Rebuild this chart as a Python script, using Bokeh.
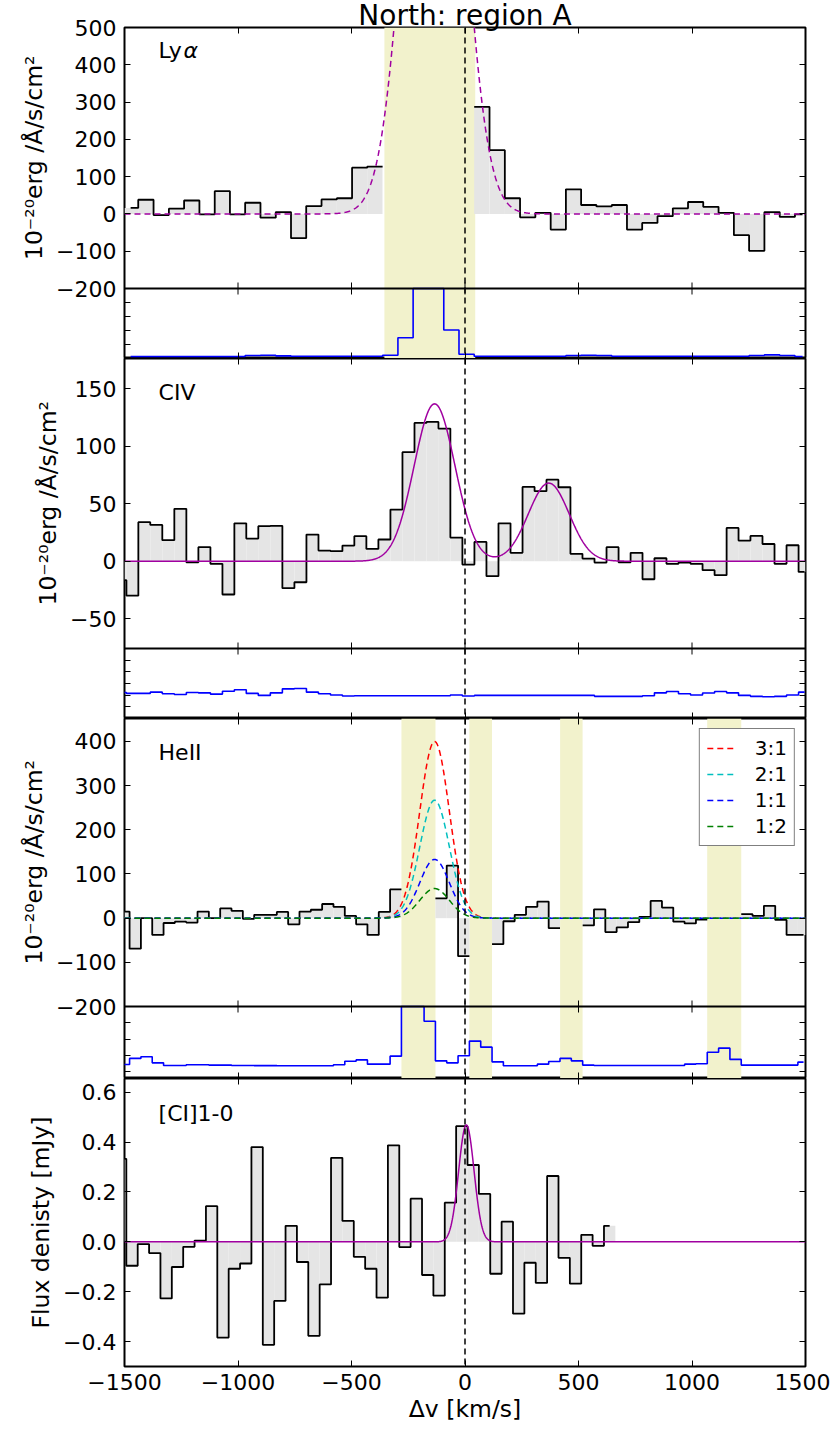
import numpy as np
from bokeh.plotting import figure
from bokeh.models import (Range1d, FixedTicker, LinearAxis, Span, BoxAnnotation,
                          Label, Legend, LegendItem, CustomJSTickFormatter, Title)
from bokeh.layouts import column
from bokeh.embed import file_html
from bokeh.resources import INLINE

nan = float("nan")
FONT = "DejaVu Sans"

# ---------------- data ----------------
x_ticks = [-1500, -1000, -500, 0, 500, 1000, 1500]

# Ly-alpha spectrum (bin centres km/s, flux 1e-20 erg/s/cm2/A, noise)
v_lya = [-1473, -1406, -1338, -1271, -1204, -1136, -1069, -1002, -935, -867,
         -800, -733, -666, -598, -531, -464, -397, -329, -262, -195,
         -127, -60, 7, 74, 142, 209, 276, 344, 411, 478,
         545, 613, 680, 747, 814, 882, 949, 1016, 1083, 1151,
         1218, 1285, 1353, 1420, 1487]
f_lya = [16, 38, -3, 14, 36, -1, 61, -1, 30, -10,
         5, -65, 21, 39, 42, 124, 127, nan, nan, nan,
         nan, nan, nan, 287, 171, 42, -9, 3, -42, 66,
         24, 20, 24, -42, -24, -6, 15, 32, 19, 3,
         -57, -99, 5, -8, -1]
n_lya = [1.4, 1.4, 1.4, 1.4, 1.4, 1.4, 1.4, 1.4, 2.1, 2.3,
         1.9, 1.6, 1.6, 1.6, 1.6, 1.6, 1.6, 2.3, 14.8, 80,
         80, 20.4, 3.0, 1.6, 1.6, 1.6, 1.6, 1.6, 1.6, 2.1,
         2.3, 2.1, 1.6, 1.6, 1.6, 1.6, 1.6, 1.6, 1.6, 1.6,
         1.6, 2.1, 2.6, 2.1, 1.4]
bw_lya = 67.27
lya_bands = [(-355, 45)]

# CIV spectrum
v_civ = [-1518, -1465, -1413, -1360, -1307, -1254, -1201, -1148, -1095, -1042,
         -990, -937, -884, -831, -778, -725, -672, -619, -566, -514,
         -461, -408, -355, -302, -249, -196, -143, -91, -38, 15,
         68, 121, 174, 227, 280, 333, 385, 438, 491, 544,
         597, 650, 703, 756, 808, 861, 914, 967, 1020, 1073,
         1126, 1179, 1231, 1284, 1337, 1390, 1443, 1496]
f_civ = [-16.5, -30, 34, 31.6, 18.3, 45.6, -1, 12.2, -2.3, -29,
         33, 19.7, 30.5, 30.8, -23.5, -18.3, 23.2, 9.3, 8.7, 13.6,
         21.8, 10.7, 18.9, 45, 94.9, 120.4, 121.3, 115.5, 20.6, -2.9,
         16.8, -13, 33, 7.3, 64.7, 61, 71, 64.4, 6.4, 2.3,
         -1.2, 12.2, -0.9, 7.3, -15.7, 2.6, -2.3, -1.2, -2.3, -7.8,
         -12.2, 29, 18, 22, 15, -2.3, 13.9, -9.3]
n_civ = [22.3, 21.5, 21.5, 22.6, 21.2, 20.6, 22.3, 22.0, 20.9, 23.4,
         24.6, 21.5, 19.8, 22.0, 25.4, 25.7, 22.6, 21.2, 20.1, 19.3,
         19.5, 19.5, 19.5, 19.5, 19.5, 19.5, 19.5, 19.5, 20.1, 19.3,
         19.8, 19.8, 19.8, 19.8, 19.8, 19.8, 19.8, 19.8, 19.8, 19.8,
         19.0, 19.0, 19.0, 19.0, 19.5, 22.0, 23.2, 21.2, 20.1, 21.8,
         23.2, 22.0, 19.8, 19.0, 18.7, 19.0, 20.1, 22.6]
bw_civ = 52.88

# HeII spectrum
v_heii = [-1502.6, -1452.7, -1402.8, -1352.9, -1303.0, -1253.1, -1203.2, -1153.3, -1103.4, -1053.5,
          -1003.6, -953.7, -903.8, -853.9, -804.0, -754.1, -704.2, -654.3, -604.4, -554.5,
          -504.6, -454.7, -404.8, -354.9, -305.0, -255.1, -205.2, -155.3, -105.4, -55.5,
          -5.6, 44.3, 94.2, 144.1, 194.0, 243.9, 293.8, 343.7, 393.6, 443.5,
          493.4, 543.3, 593.2, 643.1, 693.0, 742.9, 792.8, 842.7, 892.6, 942.5,
          992.4, 1042.3, 1092.2, 1142.1, 1192.0, 1241.9, 1291.8, 1341.7, 1391.6, 1441.5,
          1491.4]
f_heii = [15, -69, 0, -38, -11, -8, -10, 15, 0, 22,
          16.5, -1.5, 7.5, 7.5, 14, -14, 15, 19, 32, 25.6,
          5, -14, -38, 14, 65, nan, nan, nan, 45, 119,
          -86, nan, nan, -59, -7, 7.5, 25.6, 37.6, -22.6, nan,
          nan, -16.5, 20, -31.6, -21, -9, 3, 39, 24, -8,
          -12, -3, nan, nan, nan, 9, 5, 28, -4, -38,
          -38]
n_heii = [4.5, 8.2, 9.2, 5.5, 3.9, 3.9, 4.3, 4.3, 4.1, 4.1,
          3.9, 3.9, 3.8, 3.8, 3.7, 3.7, 3.7, 3.7, 3.7, 4.3,
          6.5, 7.3, 4.7, 4.7, 9.6, 60, 60, 31, 6.7, 5.5,
          9.8, 18.8, 15.1, 6.1, 3.7, 3.7, 3.7, 4.7, 6.3, 8.2,
          6.7, 4.1, 3.9, 3.9, 3.9, 3.9, 3.9, 3.9, 3.9, 3.9,
          4.7, 4.9, 12, 14.5, 7.6, 4.1, 4.1, 4.1, 4.1, 4.1,
          5.9]
bw_heii = 49.9
heii_bands = [(-280, -130), (19, 119), (419, 518), (1067, 1217)]

# [CI] 1-0 spectrum (mJy)
v_ci = [-1517.0, -1466.9, -1416.8, -1366.7, -1316.6, -1266.5, -1216.4, -1166.3, -1116.2, -1066.1,
        -1016.0, -965.9, -915.8, -865.7, -815.6, -765.5, -715.4, -665.3, -615.2, -565.1,
        -515.0, -464.9, -414.8, -364.7, -314.6, -264.5, -214.4, -164.3, -114.2, -64.1,
        -14.0, 36.1, 86.2, 136.3, 186.4, 236.5, 286.6, 336.7, 386.8, 436.9,
        487.0, 537.1, 587.2, 637.3]
f_ci = [0.333, -0.096, -0.009, -0.045, -0.227, -0.101, -0.02, 0.005, 0.143, -0.384,
        -0.108, -0.087, 0.38, -0.413, -0.237, 0.064, -0.081, -0.377, -0.171, 0.337,
        0.084, -0.06, -0.108, -0.224, 0.387, -0.021, 0.173, -0.133, -0.216, 0.157,
        0.464, 0.308, 0.192, -0.128, 0.081, -0.288, -0.084, -0.165, 0.264, -0.064,
        -0.168, 0.028, -0.016, 0.064]
bw_ci = 50.1

# Gaussian model parameters (amplitude, centre km/s, sigma km/s)
lya_fit = [(1700, -136, 113)]
civ_fit = [(137, -134, 90), (68, 369, 90)]
heii_labels = ["3:1", "2:1", "1:1", "1:2"]
heii_amps = [400, 267, 133, 67]
heii_colors = ["#ff0000", "#00bfbf", "#0000ff", "#008000"]
heii_mu, heii_sigma = -134, 65
ci_fit = [(0.469, 6, 34)]

# ---------------- helpers ----------------
PURPLE = "#a000a0"
GREY = "#e5e5e5"
BAND = "#f2f2cc"
TICK_FS = "22px"
LAB_FS = "23.5px"
TAG_FS = "22px"
BORDER_L, BORDER_R, FRAME_W = 124, 25, 681
PX = 3000.0 / FRAME_W          # km/s per screen pixel
YLAB_LEN = 205                 # approx. rendered length of the flux axis title, px
vgrid = np.linspace(-1500, 1500, 1501)


def gauss(comps):
    y = np.zeros_like(vgrid)
    for a, m, s in comps:
        y = y + a * np.exp(-0.5 * ((vgrid - m) / s) ** 2)
    return y


def step_xy(x, y):
    x = np.asarray(x, float)
    y = np.asarray(y, float)
    n = len(x)
    xs, ys = [], []
    prev = False
    for i in range(n):
        if np.isnan(y[i]):
            if prev:
                xs.append(nan)
                ys.append(nan)
            prev = False
            continue
        left = 0.5 * (x[i - 1] + x[i]) if i > 0 else x[i]
        right = 0.5 * (x[i] + x[i + 1]) if i < n - 1 else x[i]
        xs += [left, right]
        ys += [y[i], y[i]]
        prev = True
    return np.array(xs), np.array(ys)


def minus_fmt(decimals):
    return CustomJSTickFormatter(
        code="return (tick < 0 ? '\\u2212' : '') + Math.abs(tick).toFixed(%d);" % decimals)


def blank_axis(ticker, **kw):
    return LinearAxis(ticker=ticker, formatter=CustomJSTickFormatter(code="return '';"),
                      major_label_text_font_size="0px", major_label_standoff=0,
                      major_tick_in=6, major_tick_out=0, minor_tick_line_color=None,
                      axis_line_color=None, major_tick_line_color="black", **kw)


def stack(main_h, main_r, main_ticks, fmt, ylabel, noise_h=None, noise_r=None, noise_ticks=None,
          xlabels=False, top=0, bottom=0):
    lo, hi = main_r
    H = main_h + (noise_h or 0)
    lo_ext = lo - (noise_h or 0) * (hi - lo) / main_h
    p = figure(frame_width=FRAME_W, frame_height=H,
               x_range=Range1d(-1500, 1500), y_range=Range1d(lo_ext, hi),
               x_axis_location=None, y_axis_location=None,
               output_backend="svg", toolbar_location=None,
               min_border_left=BORDER_L, min_border_right=BORDER_R,
               min_border_top=top, min_border_bottom=bottom)
    p.grid.visible = False
    p.outline_line_color = "black"
    p.outline_line_width = 2
    p.outline_line_alpha = 1.0
    xt = FixedTicker(ticks=x_ticks)
    if noise_h:
        nlo, nhi = noise_r
        p.extra_y_ranges = {"noise": Range1d(nlo, nhi + main_h * (nhi - nlo) / noise_h)}
    # x axes
    if xlabels:
        ax = LinearAxis(ticker=xt, formatter=minus_fmt(0),
                        major_label_text_font_size=TICK_FS, major_label_text_font=FONT,
                        major_label_text_color="black",
                        major_label_standoff=7, major_tick_in=6, major_tick_out=0,
                        minor_tick_line_color=None, axis_line_color=None,
                        axis_label="\u0394v [km/s]", axis_label_text_font=FONT,
                        axis_label_text_color="black",
                        axis_label_text_font_size=LAB_FS, axis_label_text_font_style="normal",
                        axis_label_standoff=2)
    else:
        ax = blank_axis(xt)
    p.add_layout(ax, "below")
    p.add_layout(blank_axis(xt), "above")
    # y axes (blank noise axis first so that it sits on the frame edge)
    if noise_h:
        p.add_layout(blank_axis(FixedTicker(ticks=noise_ticks), y_range_name="noise"), "left")
    ay = LinearAxis(ticker=FixedTicker(ticks=main_ticks), formatter=fmt,
                    major_label_text_font_size=TICK_FS, major_label_text_font=FONT,
                    major_label_text_color="black",
                    major_label_standoff=8, major_tick_in=6, major_tick_out=0,
                    minor_tick_line_color=None, axis_line_color=None)
    p.add_layout(ay, "left")
    # y-axis title, centred on the flux part of the stack
    if noise_h:
        ttl = Title(text=ylabel, align="right", offset=(main_h - YLAB_LEN) / 2.0)
    else:
        ttl = Title(text=ylabel, align="center")
    ttl.update(text_font=FONT, text_font_size=LAB_FS, text_font_style="normal",
               text_color="black", standoff=12)
    p.add_layout(ttl, "left")
    p.add_layout(blank_axis(FixedTicker(ticks=main_ticks)), "right")
    if noise_h:
        p.add_layout(blank_axis(FixedTicker(ticks=noise_ticks), y_range_name="noise"), "right")
        # shared edge between the flux panel and the noise panel
        p.add_layout(Span(location=lo, dimension="width", line_color="black", line_width=2))
        tl = 6 * (hi - lo) / main_h
        p.segment(x0=x_ticks, y0=[lo] * len(x_ticks), x1=x_ticks, y1=[lo + tl] * len(x_ticks),
                  line_color="black", line_width=1)
        tn = 6 * (nhi - nlo) / noise_h
        p.segment(x0=x_ticks, y0=[nhi] * len(x_ticks), x1=x_ticks, y1=[nhi - tn] * len(x_ticks),
                  line_color="black", line_width=1, y_range_name="noise")
    return p


def add_bands(p, bands):
    for a, b in bands:
        p.add_layout(BoxAnnotation(left=a, right=b, fill_color=BAND, fill_alpha=1.0,
                                   line_color=None, level="underlay"))


def add_zero(p):
    p.add_layout(Span(location=0, dimension="height", line_color="black",
                      line_dash="6 4", line_width=1.5))


def add_spec(p, v, f, bw):
    p.vbar(x=np.asarray(v, float), top=np.asarray(f, float), bottom=0, width=bw,
           fill_color=GREY, line_color=None)
    xs, ys = step_xy(v, f)
    p.line(xs, ys, line_color="black", line_width=1.8)


def add_noise(p, v, n, top):
    xs, ys = step_xy(v, n)
    p.line(xs, np.minimum(ys, top), line_color="#0000ff", line_width=1.6,
           y_range_name="noise")   # values above the panel are clipped at its top edge


def add_tag(p, y, text, x=-1350, style="normal"):
    p.add_layout(Label(x=x, y=y, text=text, text_font=FONT, text_font_size=TAG_FS,
                       text_font_style=style, text_baseline="middle", text_color="black"))


ylab = "10\u207b\u00b2\u2070erg /\u00c5/s/cm\u00b2"

# ---------------- Ly-alpha + noise ----------------
pA = stack(261, (-200, 500), [-200, -100, 0, 100, 200, 300, 400, 500], minus_fmt(0), ylab,
           70, (0, 50), [10, 20, 30, 40])
pA.add_layout(Title(text="North: region A", align="center", text_font=FONT,
                    text_font_size="28px", text_font_style="normal", text_color="black",
                    standoff=-8), "above")
add_bands(pA, lya_bands)
add_spec(pA, v_lya, f_lya, bw_lya)
pA.line(vgrid, gauss(lya_fit), line_color=PURPLE, line_width=1.5, line_dash="6 4")
add_noise(pA, v_lya, n_lya, 50)
add_zero(pA)
add_tag(pA, 438, "Ly")
add_tag(pA, 438, "\u03b1", x=-1350 + 25 * PX, style="italic")

# ---------------- CIV + noise ----------------
pB = stack(290, (-76, 176.5), [-50, 0, 50, 100, 150], minus_fmt(0), ylab,
           70, (0, 60), [10, 20, 30, 40, 50])
add_spec(pB, v_civ, f_civ, bw_civ)
pB.line(vgrid, gauss(civ_fit), line_color=PURPLE, line_width=1.5)
add_noise(pB, v_civ, n_civ, 60)
add_zero(pB)
add_tag(pB, 146.6, "CIV")

# ---------------- HeII + noise ----------------
pC = stack(288, (-200, 452), [-200, -100, 0, 100, 200, 300, 400], minus_fmt(0), ylab,
           72, (-4.1, 40), [0, 10, 20, 30])
add_bands(pC, heii_bands)
add_spec(pC, v_heii, f_heii, bw_heii)
items = []
for lab, amp, col in zip(heii_labels, heii_amps, heii_colors):
    r = pC.line(vgrid, gauss([(amp, heii_mu, heii_sigma)]), line_color=col,
                line_width=1.5, line_dash="6 4")
    items.append(LegendItem(label=lab, renderers=[r]))
add_noise(pC, v_heii, n_heii, 40)
add_zero(pC)
add_tag(pC, 375, "HeII")
leg = Legend(items=items, location="top_right", border_line_color="black",
             border_line_width=1.5, background_fill_color="white", background_fill_alpha=1.0,
             label_text_font=FONT, label_text_font_size="20px", label_text_color="black",
             glyph_width=27, glyph_height=20, label_height=20, label_standoff=21,
             spacing=2, padding=7, margin=10)
pC.add_layout(leg)

# ---------------- [CI] 1-0 ----------------
pD = stack(288, (-0.5, 0.655), [-0.4, -0.2, 0.0, 0.2, 0.4, 0.6], minus_fmt(1),
           "Flux denisty [mJy]", xlabels=True, bottom=70)
add_spec(pD, v_ci, f_ci, bw_ci)
pD.line(vgrid, gauss(ci_fit), line_color=PURPLE, line_width=1.5)
add_zero(pD)
add_tag(pD, 0.516, "[CI]1-0")

layout = column(pA, pB, pC, pD, spacing=0)
open("out.html", "w").write(file_html(layout, INLINE))
